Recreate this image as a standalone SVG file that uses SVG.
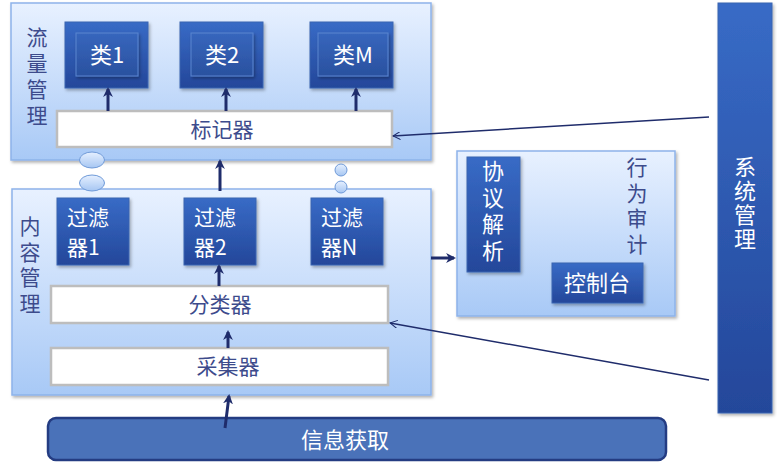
<svg xmlns="http://www.w3.org/2000/svg" width="777" height="470" viewBox="0 0 777 470">
<style>
text{font-family:"Noto Sans CJK SC","Noto Sans",sans-serif;}
.panel{fill:url(#pg);stroke:#8db3ea;stroke-width:1.5;filter:url(#sh);}
.dark{fill:url(#dg);stroke:#3b64b0;stroke-width:1;filter:url(#sh);}
.inner{fill:url(#dg2);stroke:#5a86d0;stroke-width:1;filter:url(#sh);}
.white{fill:#fff;stroke:#bdbdbd;stroke-width:2.5;}
.wt{fill:#fff;font-size:22px;}
.ft{fill:#fff;font-size:21px;}
.lt{fill:#3d4b8c;font-size:21px;}
.vt{writing-mode:vertical-rl;}
.bt{fill:#3d4b8c;font-size:21px;text-anchor:middle;}
.thick{stroke:#1f2c6b;stroke-width:3;fill:none;marker-end:url(#ah);}
.thin{stroke:#1f2c6b;stroke-width:1.5;fill:none;marker-end:url(#oh);}
.bub{fill:url(#bg);stroke:#6f9ad8;stroke-width:1;}
</style>
<defs>
<linearGradient id="pg" x1="0" y1="0" x2="0" y2="1"><stop offset="0" stop-color="#e8f1ff"/><stop offset="1" stop-color="#a8c9f6"/></linearGradient>
<linearGradient id="dg" x1="0" y1="0" x2="0" y2="1"><stop offset="0" stop-color="#386bc6"/><stop offset="1" stop-color="#24479a"/></linearGradient>
<linearGradient id="dg2" x1="0" y1="0" x2="0" y2="1"><stop offset="0" stop-color="#3766bd"/><stop offset="1" stop-color="#2a519f"/></linearGradient>
<linearGradient id="bg" x1="0" y1="0" x2="0" y2="1"><stop offset="0" stop-color="#e6f0ff"/><stop offset="1" stop-color="#a6c6f2"/></linearGradient>
<filter id="sh" x="-10%" y="-10%" width="125%" height="125%"><feDropShadow dx="1.5" dy="2" stdDeviation="1.5" flood-color="#000" flood-opacity="0.3"/></filter>
<marker id="ah" viewBox="0 0 10 10" refX="8" refY="5" markerWidth="3.3" markerHeight="3.3" orient="auto"><path d="M0,0 L10,5 L0,10 L3,5 Z" fill="#1f2c6b"/></marker>
<marker id="oh" viewBox="0 0 12 12" refX="11" refY="6" markerWidth="8" markerHeight="8" markerUnits="userSpaceOnUse" orient="auto"><path d="M0,0 L11,6 L0,12" fill="none" stroke="#1f2c6b" stroke-width="1.5"/></marker>
</defs>

<g id="flow-panel">
<rect class="panel" x="11" y="3" width="420" height="157"/>
<text class="lt vt" x="37" y="27" letter-spacing="5">流量管理</text>
</g>
<g id="class1"><rect class="dark" x="65" y="22" width="83" height="66"/><rect class="inner" x="76" y="33" width="62" height="43"/><text class="wt" x="107" y="63" font-size="24" text-anchor="middle">类1</text></g>
<g id="class2"><rect class="dark" x="180" y="22" width="83" height="66"/><rect class="inner" x="191" y="33" width="62" height="43"/><text class="wt" x="222" y="63" font-size="24" text-anchor="middle">类2</text></g>
<g id="classM"><rect class="dark" x="310" y="22" width="83" height="66"/><rect class="inner" x="318" y="33" width="70" height="43"/><text class="wt" x="353" y="63" font-size="24" text-anchor="middle">类M</text></g>
<g id="marker-box"><rect class="white" x="57" y="111" width="335" height="36"/><text class="bt" x="222" y="137">标记器</text></g>

<g id="content-panel">
<rect class="panel" x="12" y="189" width="419" height="206"/>
<text class="lt vt" x="30" y="216" letter-spacing="4.5">内容管理</text>
</g>
<g id="filter1"><rect class="dark" x="57" y="198" width="72" height="67"/><text class="ft"><tspan x="67" y="225">过滤</tspan><tspan x="67" y="255">器1</tspan></text></g>
<g id="filter2"><rect class="dark" x="184" y="198" width="72" height="67"/><text class="ft"><tspan x="194" y="225">过滤</tspan><tspan x="194" y="255">器2</tspan></text></g>
<g id="filterN"><rect class="dark" x="311" y="198" width="72" height="67"/><text class="ft"><tspan x="321" y="225">过滤</tspan><tspan x="321" y="255">器N</tspan></text></g>
<g id="classifier"><rect class="white" x="51" y="286" width="337" height="37"/><text class="bt" x="220" y="312">分类器</text></g>
<g id="collector"><rect class="white" x="51" y="348" width="337" height="37"/><text class="bt" x="228" y="374">采集器</text></g>

<g id="audit-panel">
<rect class="panel" x="457" y="151" width="218" height="165"/>
<text class="lt vt" x="637" y="157" letter-spacing="4.5">行为审计</text>
</g>
<g id="protocol"><rect class="dark" x="467" y="157" width="53" height="115"/><text class="wt vt" x="493" y="160" letter-spacing="4.5">协议解析</text></g>
<g id="console"><rect class="dark" x="552" y="263" width="91" height="40"/><text class="wt" x="597" y="291" text-anchor="middle" font-size="22">控制台</text></g>

<g id="sysmgmt"><rect class="dark" x="718" y="3" width="54" height="410"/><text class="wt vt" x="745" y="156" font-size="24" letter-spacing="2">系统管理</text></g>

<g id="info"><rect x="48" y="418" width="618" height="42" rx="8" fill="#4a72b9" stroke="#243c82" stroke-width="2.5"/><text class="wt" x="345" y="448" font-size="24" text-anchor="middle">信息获取</text></g>

<g id="bubbles">
<ellipse class="bub" cx="92" cy="160" rx="12.5" ry="8"/>
<ellipse class="bub" cx="92" cy="183" rx="12.5" ry="8"/>
<circle class="bub" cx="341" cy="170" r="6"/>
<circle class="bub" cx="341" cy="187" r="6"/>
</g>

<g id="connectors">
<line class="thick" x1="108" y1="111" x2="108" y2="89"/>
<line class="thick" x1="226" y1="111" x2="226" y2="89"/>
<line class="thick" x1="356" y1="111" x2="356" y2="89"/>
<line class="thick" x1="220" y1="191" x2="220" y2="161"/>
<line class="thick" x1="219" y1="286" x2="219" y2="266"/>
<line class="thick" x1="228" y1="348" x2="228" y2="332"/>
<line class="thick" x1="225" y1="428" x2="229" y2="396"/>
<line class="thick" x1="431" y1="258" x2="454" y2="258"/>
<line class="thin" x1="709" y1="117" x2="393" y2="136"/>
<line class="thin" x1="709" y1="380" x2="390" y2="323"/>
</g>
</svg>
